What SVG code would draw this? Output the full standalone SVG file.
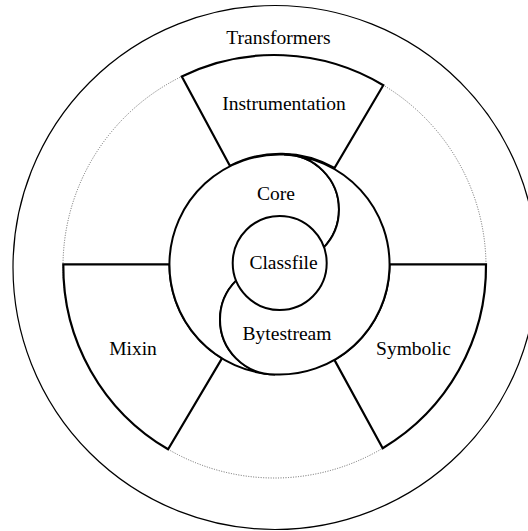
<svg xmlns="http://www.w3.org/2000/svg" width="528" height="531" viewBox="0 0 528 531">
<style>
  .lbl { font-family: "Liberation Serif", "Times New Roman", serif; font-size: 19.5px; fill: #000; text-anchor: middle; }
  .thin { fill: none; stroke: #000; stroke-width: 1.2; }
  .dot { fill: none; stroke: #666; stroke-width: 1; stroke-dasharray: 1 1.5; }
  .sector { fill: #fff; stroke: #000; stroke-width: 2.2; stroke-linejoin: miter; }
  .ring { fill: #fff; stroke: #000; stroke-width: 2; }
</style>
<rect width="528" height="531" fill="#fff"/>
<g id="transformers">
  <circle class="thin" cx="275" cy="267.5" r="262"/>
  <circle class="dot" cx="274.5" cy="266.5" r="211.5"/>
  <text class="lbl" x="278.5" y="43.5">Transformers</text>
</g>
<g id="instrumentation">
  <path class="sector" d="M230,166 L181.8,76.4 A211.5,211.5 0 0 1 383.3,85.2 L334.5,168 A110,110 0 0 0 230,166 Z"/>
  <text class="lbl" x="284" y="110">Instrumentation</text>
</g>
<g id="mixin">
  <path class="sector" d="M169.5,264.3 L63.3,264.3 A211.5,211.5 0 0 0 168.1,449.3 L222,358.3 A110,110 0 0 1 169.5,264.3 Z"/>
  <text class="lbl" x="133" y="355">Mixin</text>
</g>
<g id="symbolic">
  <path class="sector" d="M389.5,264.3 L486,264.3 A211.5,211.5 0 0 1 382.7,448.2 L334.4,359.9 A110,110 0 0 0 389.5,264.3 Z"/>
  <text class="lbl" x="413.5" y="355">Symbolic</text>
</g>
<g id="core">
  <path class="ring" d="M284,154.5 A55,55 0 0 1 284,264.5 L275,264.5 A55,55 0 0 0 275,374.5 A110,110 0 0 1 284,154.5 Z"/>
  <text class="lbl" x="276" y="199.5">Core</text>
</g>
<g id="bytestream">
  <path class="ring" d="M284,154.5 A55,55 0 0 1 284,264.5 L275,264.5 A55,55 0 0 0 275,374.5 A110,110 0 0 0 284,154.5 Z"/>
  <text class="lbl" x="287" y="340">Bytestream</text>
</g>
<g id="classfile">
  <circle class="ring" cx="279.7" cy="263" r="47"/>
  <text class="lbl" x="283.5" y="268.5">Classfile</text>
</g>
<g id="connectors"></g>
</svg>
